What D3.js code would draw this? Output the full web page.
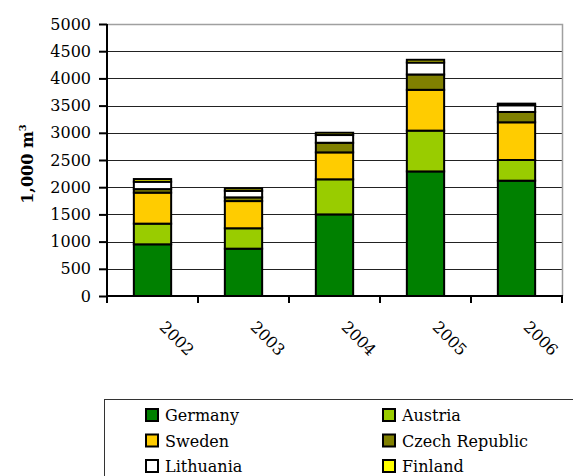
<!DOCTYPE html>
<html><head><meta charset="utf-8">
<script src="https://cdn.jsdelivr.net/npm/d3@7"></script>
<style>
html,body{margin:0;padding:0;background:#fff;}
svg{display:block;}
text{font-family:"DejaVu Serif",serif;}
</style></head>
<body>
<svg id="chart" width="573" height="476"></svg>
<script>
const years = ["2002","2003","2004","2005","2006"];
const countries = ["Germany","Austria","Sweden","Czech Republic","Lithuania","Finland"];
const colors = ["#008000","#99cc00","#ffcc00","#808000","#ffffff","#ffff00"];
const germany   = [950, 870, 1500, 2290, 2120];
const austria   = [380, 375, 645, 750, 380];
const sweden    = [570, 500, 495, 750, 693];
const czech     = [65, 68, 177, 282, 190];
const lithuania = [135, 120, 142, 220, 123];
const finland   = [50, 45, 42, 50, 30];
const yTicks = [0,500,1000,1500,2000,2500,3000,3500,4000,4500,5000];

const seriesValues = [germany, austria, sweden, czech, lithuania, finland];
const table = years.map((yr,i)=>{
  const row = {year:yr};
  countries.forEach((c,j)=>row[c]=seriesValues[j][i]);
  return row;
});
const stacked = d3.stack().keys(countries)(table);

const svg = d3.select("#chart");
const pL=107, pR=562, pT=24, pB=296;

const y = d3.scaleLinear().domain([0,5000]).range([pB,pT]);
const x = d3.scaleBand().domain(years).range([pL,pR]).paddingInner(0.59).paddingOuter(0.295);
const xCat = d3.scaleBand().domain(years).range([pL,pR]).padding(0);

// gridlines
svg.append("g").selectAll("line").data(yTicks.filter(t=>t>0 && t<5000)).join("line")
  .attr("x1",pL).attr("x2",pR)
  .attr("y1",d=>Math.round(y(d))+0.5).attr("y2",d=>Math.round(y(d))+0.5)
  .attr("stroke","#222").attr("stroke-width",1);
// plot border top/right
svg.append("path")
  .attr("d",`M${pL},${y(5000)+0.5}H${pR+0.5}V${pB}`)
  .attr("fill","none").attr("stroke","#a0a0a0").attr("stroke-width",1.5);

// bars
svg.append("g").selectAll("g").data(stacked).join("g")
  .attr("fill",(d,i)=>colors[i])
  .selectAll("rect").data(d=>d).join("rect")
  .attr("x",d=>x(d.data.year))
  .attr("width",x.bandwidth())
  .attr("y",d=>y(d[1]))
  .attr("height",d=>y(d[0])-y(d[1]))
  .attr("stroke","#000").attr("stroke-width",2);

// y axis
const yAxis = d3.axisLeft(y).tickValues(yTicks).tickSize(8).tickPadding(8).tickFormat(d3.format("d"));
const gy = svg.append("g").attr("transform",`translate(${pL},0)`).call(yAxis);
gy.select(".domain").attr("stroke","#000").attr("stroke-width",2).attr("d",`M0,${pT}V${pB}`);
gy.selectAll(".tick line").attr("stroke","#000").attr("stroke-width",2);
gy.selectAll(".tick text").attr("font-family","DejaVu Serif, serif").attr("font-size",16).attr("fill","#000");

// x axis line and boundary ticks
svg.append("line").attr("x1",pL-1).attr("x2",pR+1).attr("y1",pB).attr("y2",pB)
  .attr("stroke","#000").attr("stroke-width",2);
const bounds = years.map(d=>xCat(d)).concat([xCat(years[years.length-1])+xCat.step()]);
svg.append("g").selectAll("line").data(bounds).join("line")
  .attr("x1",d=>d).attr("x2",d=>d).attr("y1",pB).attr("y2",pB+7)
  .attr("stroke","#000").attr("stroke-width",2);

// x labels rotated
svg.append("g").selectAll("text").data(years).join("text")
  .attr("transform",d=>`translate(${xCat(d)+xCat.step()/2+6},${328}) rotate(45)`)
  .attr("font-size",16).attr("fill","#000").text(d=>d);

// y title
svg.append("text")
  .attr("transform",`translate(33,${(pT+pB)/2+4}) rotate(-90)`)
  .attr("text-anchor","middle").attr("font-size",16).attr("font-weight","bold")
  .html('1,000 m<tspan dy="-7" font-size="10">3</tspan>');

// legend
svg.append("rect").attr("x",104.5).attr("y",399.5).attr("width",480).attr("height",100)
  .attr("fill","#fff").attr("stroke","#333").attr("stroke-width",1);
const colX = [145, 382];
const rowY = [408, 433.5, 459];
const lg = svg.append("g").selectAll("g").data(countries).join("g")
  .attr("transform",(d,i)=>`translate(${colX[i%2]},${rowY[Math.floor(i/2)]})`);
lg.append("rect").attr("x",1).attr("y",1).attr("width",12).attr("height",12)
  .attr("fill",(d,i)=>colors[i]).attr("stroke","#000").attr("stroke-width",2);
lg.append("text").attr("x",20).attr("y",13).attr("font-size",16).attr("fill","#000").text(d=>d);
</script>
</body></html>
